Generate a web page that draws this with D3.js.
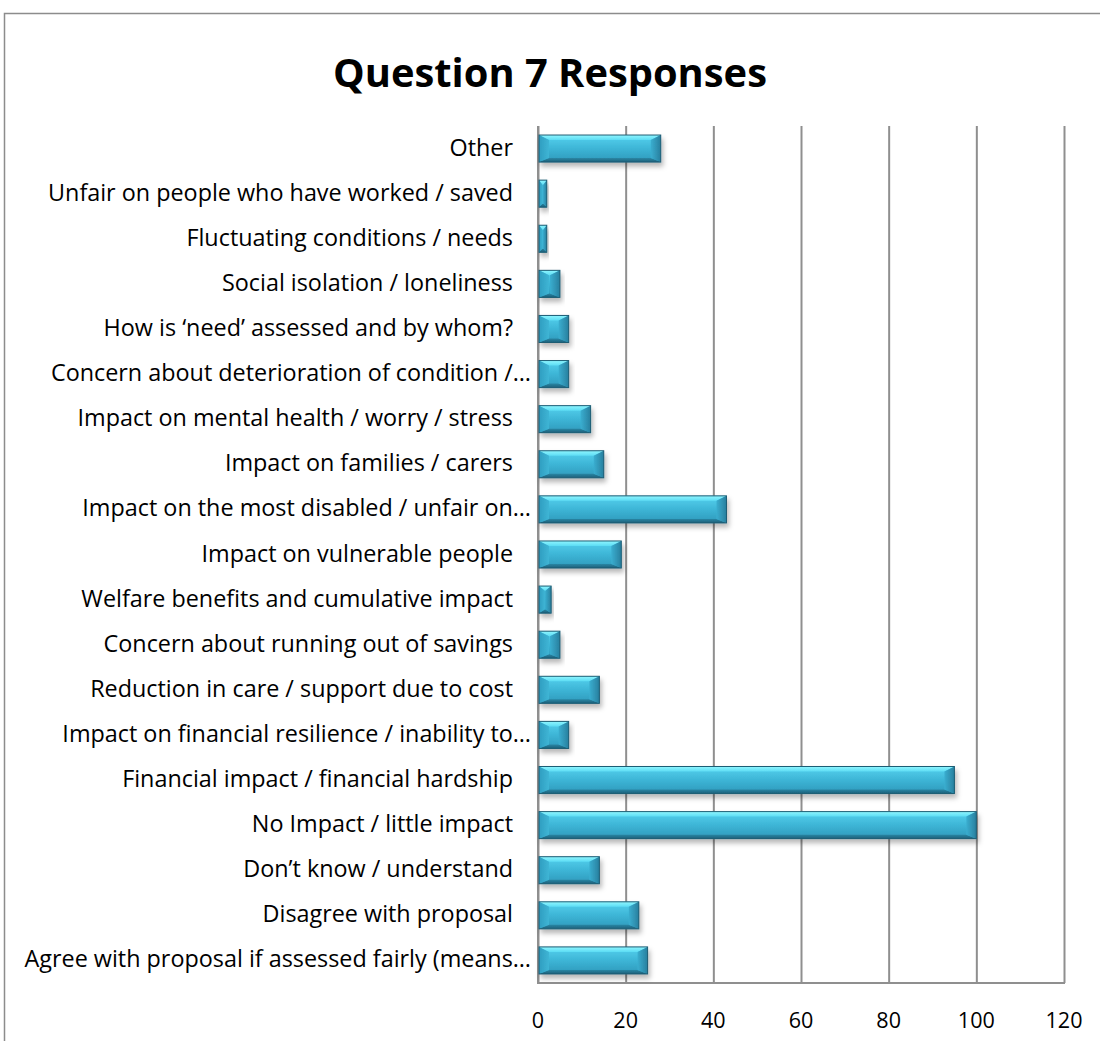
<!DOCTYPE html>
<html>
<head>
<meta charset="utf-8">
<script src="https://cdn.jsdelivr.net/npm/d3@7"></script>
<style>
  html, body { margin: 0; padding: 0; background: #fff; }
  svg { display: block; }
  text { font-family: "Open Sans", Lato, "DejaVu Sans", sans-serif; fill: #000; }
</style>
</head>
<body>
<svg id="chart" width="1100" height="1041"></svg>
<script>
// Response categories, top to bottom
const categories = [
  "Other",
  "Unfair on people who have worked / saved",
  "Fluctuating conditions / needs",
  "Social isolation / loneliness",
  "How is \u2018need\u2019 assessed and by whom?",
  "Concern about deterioration of condition /\u2026",
  "Impact on mental health / worry / stress",
  "Impact on families / carers",
  "Impact on the most disabled / unfair on\u2026",
  "Impact on vulnerable people",
  "Welfare benefits and cumulative impact",
  "Concern about running out of savings",
  "Reduction in care / support due to cost",
  "Impact on financial resilience / inability to\u2026",
  "Financial impact / financial hardship",
  "No Impact / little impact",
  "Don\u2019t know / understand",
  "Disagree with proposal",
  "Agree with proposal if assessed fairly (means\u2026"
];

// Number of responses per category
const counts = [28, 2, 2, 5, 7, 7, 12, 15, 43, 19, 3, 5, 14, 7, 95, 100, 14, 23, 25];

const xTicks = [0, 20, 40, 60, 80, 100, 120];
const titleText = "Question 7 Responses";

const svg = d3.select("#chart");
const W = 1100, H = 1041;
const plot = { left: 538, right: 1064, top: 126, bottom: 983 };

// Scale a text element's font size so it spans the given width
function fitWidth(sel, width) {
  const node = sel.node();
  const base = parseFloat(sel.style("font-size"));
  const len = node.getComputedTextLength();
  const size = base * width / len;
  sel.style("font-size", size + "px");
  return size;
}

// Outer chart frame
svg.append("rect")
  .attr("x", 4.5).attr("y", 13.5)
  .attr("width", W + 20).attr("height", H + 20)
  .attr("fill", "#fff").attr("stroke", "#8c8c8c").attr("stroke-width", 1.5);

// Title
const title = svg.append("text")
  .attr("x", 550).attr("y", 87)
  .attr("text-anchor", "middle")
  .style("font-size", "36px").style("font-weight", "700")
  .text(titleText);
fitWidth(title, 434);

const x = d3.scaleLinear().domain([0, 120]).range([plot.left, plot.right]);
const y = d3.scaleBand().domain(categories).range([plot.top, plot.bottom]).paddingInner(0.4).paddingOuter(0.2);

// Defs: gradients and shadow for the bevelled bars
const defs = svg.append("defs");
const grad = (id, stops, horiz) => {
  const g = defs.append("linearGradient").attr("id", id)
    .attr("x1", 0).attr("y1", 0).attr("x2", horiz ? 1 : 0).attr("y2", horiz ? 0 : 1);
  stops.forEach(([o, c]) => g.append("stop").attr("offset", o).attr("stop-color", c));
};
grad("face", [[0, "#56d2ef"], [0.5, "#3db5d6"], [1, "#2e98ba"]]);
grad("topFacet", [[0, "#8ff6ff"], [1, "#5cdcf4"]]);
grad("botFacet", [[0, "#2a86a4"], [1, "#1c5f79"]]);
grad("leftFacet", [[0, "#2f9dc0"], [1, "#3fb5d5"]], true);
grad("rightFacet", [[0, "#3aaed0"], [1, "#287f9e"]], true);
const sh = defs.append("filter").attr("id", "shadow")
  .attr("x", "-10%").attr("y", "-30%").attr("width", "130%").attr("height", "190%");
sh.append("feDropShadow").attr("dx", 2).attr("dy", 4).attr("stdDeviation", 2.5)
  .attr("flood-color", "#000").attr("flood-opacity", 0.28);

// Vertical gridlines
const xAxisG = svg.append("g").attr("transform", `translate(0,${plot.bottom})`);
xAxisG.call(d3.axisBottom(x).tickValues(xTicks).tickSize(-(plot.bottom - plot.top)).tickFormat(""))
  .call(g => g.select(".domain").remove())
  .call(g => g.selectAll(".tick line").attr("stroke", "#8f8f8f").attr("stroke-width", 2));

// Axis lines
svg.append("line").attr("x1", plot.left).attr("x2", plot.left)
  .attr("y1", plot.top).attr("y2", plot.bottom).attr("stroke", "#8f8f8f").attr("stroke-width", 2);
svg.append("line").attr("x1", plot.left - 1).attr("x2", plot.right + 1)
  .attr("y1", plot.bottom).attr("y2", plot.bottom).attr("stroke", "#8f8f8f").attr("stroke-width", 2);

// Tick labels
const tickLabels = svg.append("g").selectAll("text").data(xTicks).join("text")
  .attr("x", d => x(d)).attr("y", 1028)
  .attr("text-anchor", "middle")
  .style("font-size", "20px")
  .text(d => d);
fitWidth(tickLabels.filter(d => d === 120), 37);
tickLabels.style("font-size", tickLabels.filter(d => d === 120).style("font-size"));

// Category labels
const labels = svg.append("g").selectAll("text").data(categories).join("text")
  .attr("x", d => d.endsWith("\u2026") ? 531 : 513)
  .attr("y", d => y(d) + y.bandwidth() / 2 + 7)
  .attr("text-anchor", "end")
  .style("font-size", "20px")
  .text(d => d);
const labelSize = fitWidth(labels.filter((d, i) => i === 1), 465);
labels.style("font-size", labelSize + "px");

// Bevelled bars
const bars = svg.append("g").selectAll("g").data(categories).join("g")
  .attr("filter", "url(#shadow)");

bars.each(function (d, i) {
  const g = d3.select(this);
  const x0 = x(0) + 1, x1 = x(counts[i]);
  const y0 = y(d), h = y.bandwidth(), y1 = y0 + h;
  const w = x1 - x0;
  const bx = Math.min(10, w / 2), bt = Math.min(5, h / 2), bb = Math.min(4, h / 2);
  const poly = pts => pts.map(p => p.join(",")).join(" ");
  g.append("rect").attr("x", x0).attr("y", y0).attr("width", w).attr("height", h)
    .attr("fill", "url(#face)");
  g.append("polygon").attr("points", poly([[x0, y0], [x1, y0], [x1 - bx, y0 + bt], [x0 + bx, y0 + bt]]))
    .attr("fill", "url(#topFacet)");
  g.append("polygon").attr("points", poly([[x0, y1], [x1, y1], [x1 - bx, y1 - bb], [x0 + bx, y1 - bb]]))
    .attr("fill", "url(#botFacet)");
  g.append("polygon").attr("points", poly([[x0, y0], [x0 + bx, y0 + bt], [x0 + bx, y1 - bb], [x0, y1]]))
    .attr("fill", "url(#leftFacet)");
  g.append("polygon").attr("points", poly([[x1, y0], [x1 - bx, y0 + bt], [x1 - bx, y1 - bb], [x1, y1]]))
    .attr("fill", "url(#rightFacet)");
  g.append("rect").attr("x", x0).attr("y", y0).attr("width", w).attr("height", h)
    .attr("fill", "none").attr("stroke", "#1f5d74").attr("stroke-width", 1);
});
</script>
</body>
</html>
